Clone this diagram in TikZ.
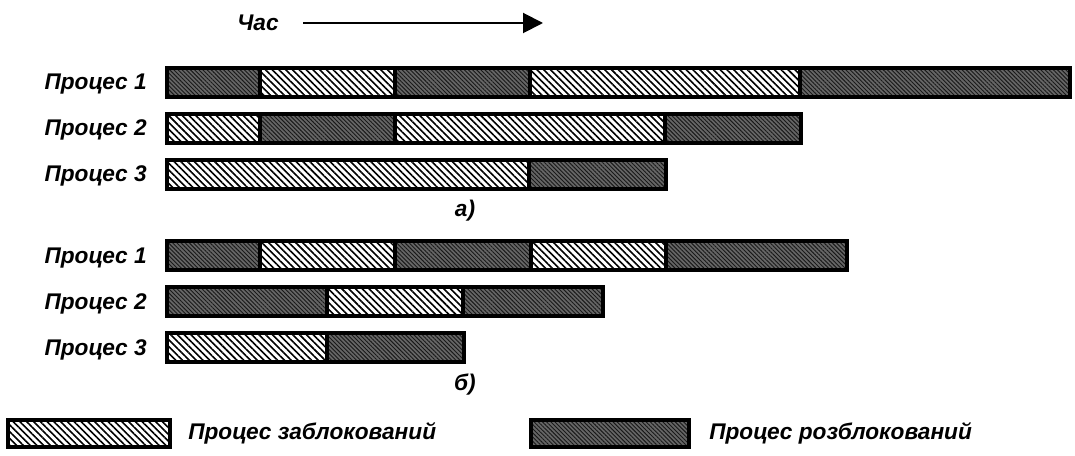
\documentclass[tikz,border=0pt]{standalone}
\usepackage{fontspec}
\setmainfont{Liberation Sans}
\usetikzlibrary{arrows.meta,patterns.meta}

\begin{document}
\begin{tikzpicture}[x=0.75pt,y=-0.75pt]
        % Define styles
        \tikzset{
            proclabel/.style={font=\fontsize{17}{20}\selectfont\bfseries\itshape, inner sep=0pt},
            blocked/.style={draw, line width=2.6pt, pattern={Lines[angle=-45,distance=3.6pt,line width=1.2pt]}},
            unblocked/.style={draw, line width=2.6pt, preaction={fill=black!60}, pattern={Lines[angle=-45,distance=2.2pt,line width=0.7pt]}, pattern color=black!90},
            arrow/.style={-{Triangle[length=15pt,width=15pt]}, line width=1.5pt}
        }
        \useasboundingbox (0,0) rectangle (1075,456);

        % Time axis
        \node[proclabel] (time_label) at (258,23) {Час};
        \coordinate (time_start) at (303,23);
        \coordinate (time_end) at (543,23);
        \draw[arrow] (time_start) -- (time_end);

        % a) process 1
        \node[proclabel, anchor=base east] (a_label_1) at (147,90) {Процес 1};
        \draw[unblocked] (167,68) rectangle (260,97);
        \draw[blocked] (260,68) rectangle (395,97);
        \draw[unblocked] (395,68) rectangle (530,97);
        \draw[blocked] (530,68) rectangle (800,97);
        \draw[unblocked] (800,68) rectangle (1070,97);

        % a) process 2
        \node[proclabel, anchor=base east] (a_label_2) at (147,136) {Процес 2};
        \draw[blocked] (167,114) rectangle (260,143);
        \draw[unblocked] (260,114) rectangle (395,143);
        \draw[blocked] (395,114) rectangle (665,143);
        \draw[unblocked] (665,114) rectangle (801,143);

        % a) process 3
        \node[proclabel, anchor=base east] (a_label_3) at (147,182) {Процес 3};
        \draw[blocked] (167,160) rectangle (529,189);
        \draw[unblocked] (529,160) rectangle (666,189);

        \node[proclabel] (caption_a) at (465,211) {а)};

        % b) process 1
        \node[proclabel, anchor=base east] (b_label_1) at (147,263) {Процес 1};
        \draw[unblocked] (167,241) rectangle (260,270);
        \draw[blocked] (260,241) rectangle (395,270);
        \draw[unblocked] (395,241) rectangle (531,270);
        \draw[blocked] (531,241) rectangle (666,270);
        \draw[unblocked] (666,241) rectangle (847,270);

        % b) process 2
        \node[proclabel, anchor=base east] (b_label_2) at (147,309) {Процес 2};
        \draw[unblocked] (167,287) rectangle (327,316);
        \draw[blocked] (327,287) rectangle (463,316);
        \draw[unblocked] (463,287) rectangle (603,316);

        % b) process 3
        \node[proclabel, anchor=base east] (b_label_3) at (147,355) {Процес 3};
        \draw[blocked] (167,333) rectangle (327,362);
        \draw[unblocked] (327,333) rectangle (464,362);

        \node[proclabel] (caption_b) at (465,385) {б)};

        % Legend
        \draw[blocked] (8,420) rectangle (170,447);
        \node[proclabel, anchor=west] (legend_blocked) at (188,433.5) {Процес заблокований};
        \draw[unblocked] (531,420) rectangle (689,447);
        \node[proclabel, anchor=west] (legend_unblocked) at (709,433.5) {Процес розблокований};
    \end{tikzpicture}
\end{document}
